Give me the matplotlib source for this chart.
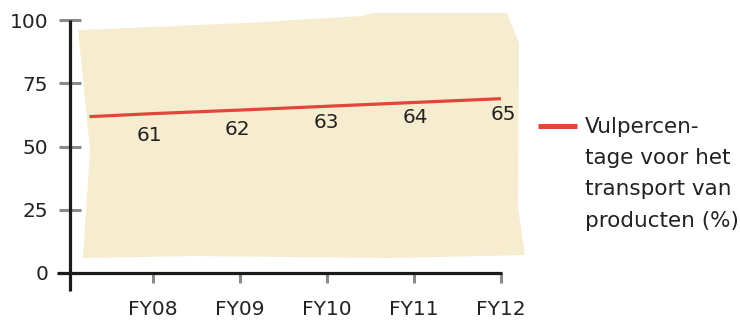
import matplotlib
matplotlib.use("Agg")
import matplotlib.pyplot as plt
from matplotlib.patches import Polygon
from matplotlib.lines import Line2D

# ---- data ----
categories = ["FY08", "FY09", "FY10", "FY11", "FY12"]
label_values = [61, 62, 63, 64, 65]
line_values = [63.0, 64.4, 65.9, 67.4, 68.9]   # line height at each category (as drawn)
line_start_x = -0.73
line_start_value = 61.8
y_ticks = [0, 25, 50, 75, 100]
legend_label = "Vulpercen-\ntage voor het\ntransport van\nproducten (%)"

# decorative paper-like background shape (data coords)
bg_shape_x = [-0.862, 1.115, 2.402, 2.517, 4.069, 4.207, 4.195, 4.276, 2.724, 0.46, -0.805, -0.724]
bg_shape_y = [96.0, 98.9, 101.6, 102.8, 102.8, 90.9, 26.1, 7.1, 5.9, 6.7, 5.9, 48.6]

# label offsets (pixels: dx, dy downward)
label_offsets = [(-4, 21.6), (-3, 19), (-1, 16.6), (1, 15), (2, 15.7)]

TEXT = "#222222"
RED = "#E2453A"
BEIGE = "#F6ECD0"
TICKGREY = "#8a8a8a"
FS = 14.5

W, H = 740, 321
fig = plt.figure(figsize=(W / 100, H / 100), dpi=100)
ax = fig.add_axes([70 / W, (H - 273) / H, (502 - 70) / W, (273 - 20) / H])
ax.set_facecolor("none")

xs = list(range(len(categories)))
ax.set_xlim(-(153 - 70) / 87, 4 + (502 - 501) / 87)
ax.set_ylim(0, 100)

ax.add_patch(Polygon(list(zip(bg_shape_x, bg_shape_y)), closed=True,
                     facecolor=BEIGE, edgecolor="none", clip_on=False, zorder=0))

ax.plot([line_start_x] + xs, [line_start_value] + line_values, color=RED,
        lw=2.3, solid_capstyle="butt", clip_on=False, zorder=3)

for x, yv, lab, (dx, dy) in zip(xs, line_values, label_values, label_offsets):
    ax.annotate(str(lab), (x, yv), xytext=(dx * 0.72, -dy * 0.72),
                textcoords="offset points", ha="center", va="center",
                fontsize=14.5, color=TEXT, zorder=4)

for s in ax.spines.values():
    s.set_visible(False)

# axis lines (extend beyond plot area like the reference)
ax.plot([0, 0], [-18 / 253, 1], transform=ax.transAxes, color="#1a1a1a",
        lw=2.3, clip_on=False, zorder=5, solid_capstyle="butt")
ax.plot([-13 / 432, 1], [0, 0], transform=ax.transAxes, color="#1a1a1a",
        lw=2.3, clip_on=False, zorder=5, solid_capstyle="butt")

ax.set_yticks(y_ticks)
ax.set_yticklabels([str(v) for v in y_ticks])
ax.set_xticks(xs)
ax.set_xticklabels(categories)
ax.tick_params(axis="y", direction="inout", length=23 * 0.72, width=2.2,
               color=TICKGREY, labelsize=FS, labelcolor=TEXT, pad=7.5)
ax.tick_params(axis="x", direction="out", length=10 * 0.72, width=2.2,
               color=TICKGREY, labelsize=FS, labelcolor=TEXT, pad=12.5)

# legend
fig.add_artist(Line2D([538 / W, 577 / W], [1 - 125.5 / H, 1 - 125.5 / H],
                      color=RED, lw=3.6, solid_capstyle="butt"))
fig.text(585 / W, 1 - 117 / H, legend_label, ha="left", va="top",
         fontsize=15.5, color=TEXT, linespacing=1.7)

fig.savefig("out.png", dpi=100)
